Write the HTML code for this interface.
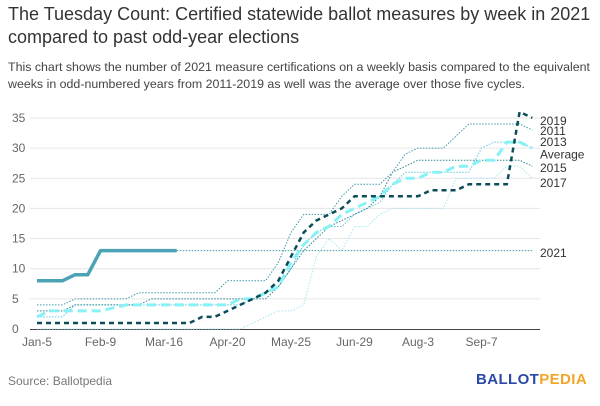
<!DOCTYPE html>
<html><head><meta charset="utf-8">
<style>
html,body{margin:0;padding:0;background:#fff;}
body{width:600px;height:406px;overflow:hidden;font-family:"Liberation Sans",sans-serif;position:relative;}
.t{position:absolute;left:8px;top:3px;font-size:18px;line-height:23px;color:#333;}
.s{position:absolute;left:8px;top:59px;font-size:12.4px;line-height:17px;color:#444;width:592px;}
.src{position:absolute;left:8px;top:374px;font-size:12px;color:#777;}
.logo{position:absolute;left:476px;top:371px;font-size:15px;font-weight:bold;letter-spacing:0.4px;}
svg{position:absolute;left:0;top:0;}
</style></head><body>
<div class="t">The Tuesday Count: Certified statewide ballot measures by week in 2021<br>compared to past odd-year elections</div>
<div class="s">This chart shows the number of 2021 measure certifications on a weekly basis compared to the equivalent weeks in odd-numbered years from 2011-2019 as well was the average over those five cycles.</div>
<svg id="chart" width="600" height="406"></svg>
<div class="src">Source: Ballotpedia</div>
<div class="logo"><span style="color:#2b4aa6">BALLOT</span><span style="color:#f2a628">PEDIA</span></div>
<script>
const xTicks = ["Jan-5","Feb-9","Mar-16","Apr-20","May-25","Jun-29","Aug-3","Sep-7"];
const xTickWeeks = [0,5,10,15,20,25,30,35];
const yTicks = [0,5,10,15,20,25,30,35];
const s2021 = [8,8,8,9,9,13,13,13,13,13,13,13];
const s2021ext = [13,13];
const s2019 = [1,1,1,1,1,1,1,1,1,1,1,1,1,2,2,3,4,5,6,8,12,16,18,19,20,22,22,22,22,22,22,23,23,23,24,24,24,24,36,35];
const s2011 = [4,4,4,5,5,5,5,5,6,6,6,6,6,6,6,8,8,8,8,11,16,19,19,19,22,24,24,24,26,29,30,30,30,32,34,34,34,34,34,33];
const s2013 = [2,2,2,4,4,4,4,4,4,4,4,4,4,4,4,4,4,5,6,7,10,14,16,17,17,19,20,21,24,26,26,26,26,26,26,30,31,31,31,30];
const s2015 = [3,3,3,4,4,4,4,4,4,5,5,5,5,5,5,5,5,5,5,7,10,13,15,17,18,19,20,22,26,27,28,28,28,28,28,28,28,28,28,27];
const s2017 = [0,0,0,0,0,0,0,0,0,0,0,0,0,0,0,0,0,1,2,3,3,4,12,15,13,17,17,19,20,20,20,20,20,25,25,25,25,27,27,25];
const sAvg = [2,3,3,3,3,3,3.5,4,4,4,4,4,4,4,4,4,5,5,6,7,11,14,16,17,19,20,21,22,24,25,25,26,26,27,27,28,28,31,31,30];
const labels = ["2019","2011","2013","Average","2015","2017","2021"];
const labelVals = [34.5,32.8,31,28.9,26.7,24.2,12.6];

const NS="http://www.w3.org/2000/svg";
const svg=document.getElementById('chart');
const X0=37,XW=12.7,Y0=329,YU=6.03;
const x=w=>X0+XW*w;
const y=v=>Y0-YU*v;
function mk(tag,attrs){const e=document.createElementNS(NS,tag);for(const k in attrs)e.setAttribute(k,attrs[k]);svg.appendChild(e);return e;}

yTicks.forEach((t,i)=>{
  if(t>0){const g=mk('line',{x1:30,x2:540,y1:y(t),y2:y(t),stroke:'#e6e6e6','stroke-width':1});
  
  }
  const l=mk('text',{x:12,y:y(t)+4,'font-size':12,fill:'#666','font-family':'Liberation Sans, sans-serif'});
  l.textContent=t;
  
  
});
const ax=mk('line',{x1:30,x2:540,y1:Y0+0.5,y2:Y0+0.5,stroke:'#444','stroke-width':1});


xTicks.forEach((t,i)=>{
  const l=mk('text',{x:x(xTickWeeks[i]),y:346,'font-size':12,fill:'#666','text-anchor':'middle','font-family':'Liberation Sans, sans-serif'});
  l.textContent=t;
  
  
});
function line(arr,start,color,w,dash,name){
  const pts=arr.map((v,i)=>x(start+i).toFixed(1)+','+y(v).toFixed(1)).join(' ');
  const p=mk('polyline',{points:pts,fill:'none',stroke:color,'stroke-width':w,'stroke-dasharray':dash,'stroke-linejoin':'round'});
  
  
}
line(s2017,0,'#a6e6ef',1,'1.5,1.5','line-2017');
line(s2013,0,'#5fcbdc',1,'1.5,1.5','line-2013');
line(s2015,0,'#2f8594',1,'1.5,1.5','line-2015');
line(s2011,0,'#3f9aaa',1,'1.5,1.5','line-2011');
line([s2021[s2021.length-1]].concat(s2021ext),0,'#3f9aaa',1,'1.5,1.5','line-2021-extension');
svg.lastChild.setAttribute('points',x(s2021.length-1)+','+y(s2021ext[0])+' '+x(39)+','+y(s2021ext[1]));
line(sAvg,0,'#86f2f6',3,'9,5','line-average');
line(s2019,0,'#0b4d58',2.5,'5,4','line-2019');
line(s2021,0,'#4ba3b5',3.5,'','line-2021');
labels.forEach((t,i)=>{
  const l=mk('text',{x:540,y:y(labelVals[i])+4,'font-size':12,fill:'#333','font-family':'Liberation Sans, sans-serif'});
  l.textContent=t;
  
  
});
</script>
</body></html>
